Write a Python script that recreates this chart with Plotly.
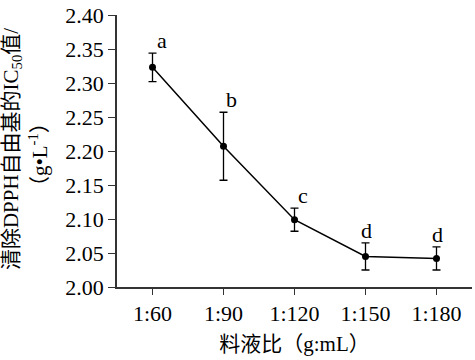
import plotly.graph_objects as go

categories = ["1:60", "1:90", "1:120", "1:150", "1:180"]
ic50 = [2.323, 2.207, 2.099, 2.045, 2.042]
err = [0.021, 0.050, 0.017, 0.020, 0.017]
letters = ["a", "b", "c", "d", "d"]
yticks = [2.00, 2.05, 2.10, 2.15, 2.20, 2.25, 2.30, 2.35, 2.40]

FONT = "Liberation Serif, Times New Roman, Noto Sans CJK SC, serif"
FS = 21
x_idx = list(range(len(categories)))

fig = go.Figure()
fig.add_trace(go.Scatter(
    x=x_idx, y=ic50, mode="lines+markers",
    line=dict(color="black", width=1.5),
    marker=dict(color="black", size=7),
    error_y=dict(type="data", array=err, visible=True, color="black", thickness=1.3, width=4),
    showlegend=False,
))

xshifts = [9, 8, 8, 1, 1]
for i, (v, e, t) in enumerate(zip(ic50, err, letters)):
    fig.add_annotation(x=i, y=v + e, text=t, showarrow=False, xanchor="center", yanchor="bottom",
                       xshift=xshifts[i], yshift=-2, font=dict(family=FONT, size=22, color="black"))

# y-axis title, two rotated lines
fig.add_annotation(xref="paper", yref="paper", x=-0.2958, y=0.507, text="清除DPPH自由基的IC<sub>50</sub>值/",
                   textangle=-90, showarrow=False, xanchor="center", yanchor="middle",
                   font=dict(family=FONT, size=FS, color="black"))
fig.add_annotation(xref="paper", yref="paper", x=-0.2225, y=0.485, text="（g•L<sup>-1</sup>）",
                   textangle=-90, showarrow=False, xanchor="center", yanchor="middle",
                   font=dict(family=FONT, size=FS, color="black"))

fig.update_layout(
    width=475, height=360,
    margin=dict(l=117, r=3, t=13, b=73),
    paper_bgcolor="white", plot_bgcolor="white",
    font=dict(family=FONT, size=FS, color="black"),
    xaxis=dict(
        range=[-0.5, 4.5], tickmode="array", tickvals=x_idx, ticktext=categories,
        showline=True, linecolor="#333", linewidth=1.5, ticks="outside", ticklen=6, tickcolor="#333",
        showgrid=False, zeroline=False,
        title=dict(text="料液比（g:mL）", font=dict(family=FONT, size=FS), standoff=11),
        tickfont=dict(family=FONT, size=22),
    ),
    yaxis=dict(
        range=[2.0, 2.4], tickmode="array", tickvals=yticks, ticktext=[f"{t:.2f}" for t in yticks],
        showline=True, linecolor="#333", linewidth=1.5, ticks="outside", ticklen=7, tickcolor="#333",
        showgrid=False, zeroline=False,
        tickfont=dict(family=FONT, size=22),
    ),
)

fig.write_html("out.html", config={"displayModeBar": False},
               post_script="document.body.style.margin='0';")
